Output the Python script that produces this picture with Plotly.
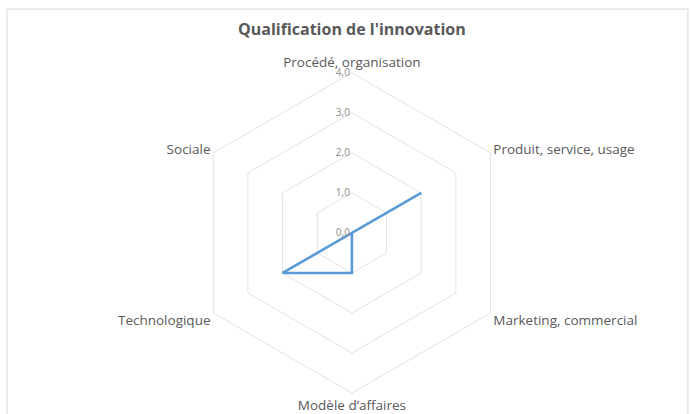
import plotly.graph_objects as go

# axes of the radar, clockwise from the top
categories = ["Procédé, organisation", "Produit, service, usage", "Marketing, commercial",
              "Modèle d’affaires", "Technologique", "Sociale"]
scores = [0, 2, 0, 1, 2, 0]
radial_ticks = [0, 1, 2, 3, 4]

fig = go.Figure()
fig.add_trace(go.Scatterpolar(
    r=scores + scores[:1],
    theta=categories + categories[:1],
    mode="lines",
    line=dict(color="#5b9bd5", width=2.6),
    hoverinfo="r+theta",
))

fig.update_layout(
    width=690, height=414,
    paper_bgcolor="white",
    margin=dict(l=0, r=0, t=0, b=0),
    separators=",.",
    font=dict(family="Open Sans", color="#595959"),
    showlegend=False,
    title=dict(text="<b>Qualification de l'innovation</b>", x=0.51, xanchor="center",
               y=0.928, yanchor="middle", font=dict(size=16, color="#595959")),
    polar=dict(
        domain=dict(x=[0.278, 0.742], y=[0.0507, 0.824]),
        bgcolor="white",
        gridshape="linear",
        radialaxis=dict(range=[0, 4], tickvals=radial_ticks, tickformat=".1f",
                        angle=90, tickangle=90, side="counterclockwise",
                        showline=False, ticks="",
                        gridcolor="#e3e3e3", gridwidth=1,
                        tickfont=dict(size=10, color="#8c8c8c")),
        angularaxis=dict(direction="clockwise", rotation=90, showgrid=False,
                         showline=True, linecolor="#e3e3e3", linewidth=1, ticks="",
                         tickfont=dict(size=13.5, color="#595959")),
    ),
    shapes=[dict(type="rect", xref="paper", yref="paper", x0=0.01, x1=0.997,
                 y0=-0.01, y1=0.978, line=dict(color="#d9d9d9", width=1))],
)

fig.write_html("out.html", config={"displayModeBar": False},
               post_script="document.body.style.margin='0';")
